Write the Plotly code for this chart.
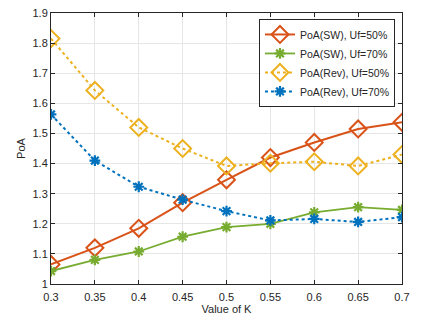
import plotly.graph_objects as go

k_values = [0.3, 0.35, 0.4, 0.45, 0.5, 0.55, 0.6, 0.65, 0.7]
poa_sw_50 = [1.065, 1.12, 1.185, 1.27, 1.346, 1.42, 1.47, 1.515, 1.537]
poa_sw_70 = [1.043, 1.08, 1.108, 1.157, 1.189, 1.20, 1.238, 1.255, 1.246]
poa_rev_50 = [1.815, 1.643, 1.52, 1.45, 1.392, 1.401, 1.406, 1.392, 1.43]
poa_rev_70 = [1.563, 1.41, 1.323, 1.28, 1.242, 1.211, 1.216, 1.206, 1.222]
x_ticks = [0.3, 0.35, 0.4, 0.45, 0.5, 0.55, 0.6, 0.65, 0.7]
y_ticks = [1, 1.1, 1.2, 1.3, 1.4, 1.5, 1.6, 1.7, 1.8, 1.9]

fig = go.Figure()
fig.add_trace(go.Scatter(x=k_values, y=poa_sw_50, name="PoA(SW), Uf=50%", mode="lines+markers",
                         line=dict(color="#D95319", width=2),
                         marker=dict(symbol="diamond-open", size=13, line=dict(width=2, color="#D95319"))))
fig.add_trace(go.Scatter(x=k_values, y=poa_sw_70, name="PoA(SW), Uf=70%", mode="lines+markers",
                         line=dict(color="#77AC30", width=1.8),
                         marker=dict(symbol="asterisk-open", size=9, line=dict(width=2.2, color="#77AC30"))))
fig.add_trace(go.Scatter(x=k_values, y=poa_rev_50, name="PoA(Rev), Uf=50%", mode="lines+markers",
                         line=dict(color="#EDB120", width=2, dash="dot"),
                         marker=dict(symbol="diamond-open", size=13, line=dict(width=2, color="#EDB120"))))
fig.add_trace(go.Scatter(x=k_values, y=poa_rev_70, name="PoA(Rev), Uf=70%", mode="lines+markers",
                         line=dict(color="#0072BD", width=2, dash="dot"),
                         marker=dict(symbol="asterisk-open", size=9, line=dict(width=2.2, color="#0072BD"))))

axis_common = dict(showline=True, linecolor="#262626", linewidth=1, mirror="ticks",
                   ticks="inside", ticklen=4, tickcolor="#262626",
                   showgrid=True, gridcolor="#E6E6E6", gridwidth=1, zeroline=False,
                   tickfont=dict(family="Liberation Sans, Arial", size=11, color="#262626"))

fig.update_layout(
    width=422, height=320,
    margin=dict(l=51, r=20, t=7, b=36),
    paper_bgcolor="white", plot_bgcolor="white",
    font=dict(family="Liberation Sans, Arial", size=11, color="#262626"),
    xaxis=dict(range=[0.3, 0.7], tickvals=x_ticks, ticktext=[f"{v:g}" for v in x_ticks],
               ticklabelstandoff=3,
               title=dict(text="Value of K", standoff=2, font=dict(size=11)), **axis_common),
    yaxis=dict(range=[1, 1.9], tickvals=y_ticks, ticktext=[f"{v:g}" for v in y_ticks],
               title=dict(text="PoA", standoff=4, font=dict(size=11)), **axis_common),
    legend=dict(x=0.98, y=0.978, xanchor="right", yanchor="top",
                bgcolor="white", bordercolor="#262626", borderwidth=1,
                font=dict(size=10.5), tracegroupgap=0, itemwidth=30),
    showlegend=True,
)

fig.write_html("out.html")
